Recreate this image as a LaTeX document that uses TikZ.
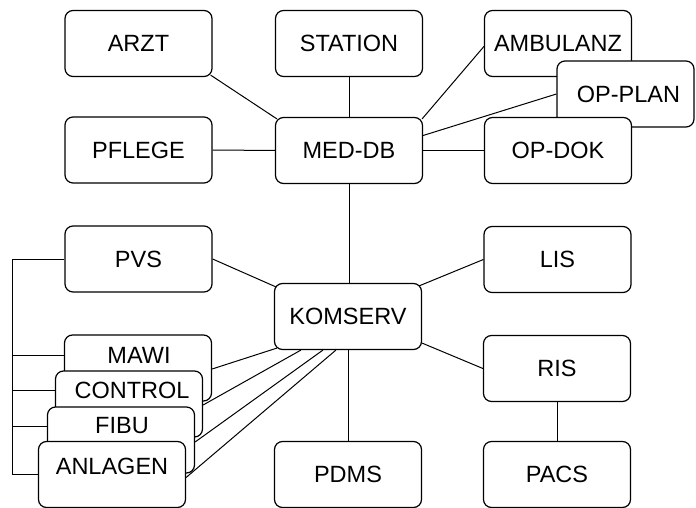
\documentclass[tikz,border=0pt]{standalone}
\usepackage{fontspec}
\setmainfont{Liberation Sans}
\usetikzlibrary{calc,backgrounds}
\begin{document}
\begin{tikzpicture}[x=1pt,y=-1pt,
  sysbox/.style={draw, line width=1.2pt, rounded corners=8pt, fill=white,
    minimum width=147pt, minimum height=66pt, inner sep=0pt,
    font=\fontsize{23.5}{28}\selectfont},
  boxlabel/.style={inner sep=0pt, font=\fontsize{23.5}{28}\selectfont},
  link/.style={line width=1pt}]
\useasboundingbox (0,0) rectangle (696,508);

% upper group around the medical database
\node[sysbox] (arzt)     at (138.5,43.5) {ARZT};
\node[sysbox] (station)  at (349,43.5)   {STATION};
\node[sysbox] (ambulanz) at (558,43.5)   {AMBULANZ};
\node[sysbox, minimum width=137pt] (opplan) at (625.5,94) {\hspace*{6pt}OP-PLAN};
\node[sysbox] (pflege)   at (138.5,150)  {PFLEGE};
\node[sysbox] (meddb)    at (349,150.5)  {MED-DB};
\node[sysbox] (opdok)    at (558,150.5)  {OP-DOK};

% communication server and attached systems
\node[sysbox] (pvs)      at (138.5,259)  {PVS};
\node[sysbox] (komserv)  at (348,316.5)  {KOMSERV};
\node[sysbox] (lis)      at (557.5,259.5) {LIS};
\node[sysbox] (ris)      at (557,368.5)  {RIS};
\node[sysbox] (pdms)     at (348,474.5)  {PDMS};
\node[sysbox] (pacs)     at (557,474.5)  {PACS};

% stacked administrative systems
\node[sysbox] (mawi)    at (138,368) {};
\node[boxlabel] (mawi-t) at (139,355) {MAWI};
\node[sysbox] (control) at (129,404) {};
\node[boxlabel] (control-t) at (132,390) {CONTROL};
\node[sysbox] (fibu)    at (121,440) {};
\node[boxlabel] (fibu-t) at (122,426) {FIBU};
\node[sysbox] (anlagen) at (112,474.5) {};
\node[boxlabel] (anlagen-t) at (112,466) {ANLAGEN};

\coordinate (bustop) at (12,259);
\coordinate (busbot) at (12,474.5);

\begin{pgfonlayer}{background}
  % links of MED-DB
  \draw[link] ($(arzt.south east)+(-2,-2)$) -- ($(meddb.north west)+(2,2)$);
  \draw[link] (station.south) -- (meddb.north);
  \draw[link] (pflege.east) -- (meddb.west);
  \draw[link] ($(meddb.north east)+(-1,2)$) -- ($(ambulanz.west)+(0,3)$);
  \draw[link] ($(meddb.east)+(0,-15)$) -- (opplan.west);
  \draw[link] (meddb.east) -- (opdok.west);
  \draw[link] (meddb.south) -- (meddb.south |- komserv.north);

  % links of KOMSERV
  \draw[link] (pvs.east) -- ($(komserv.north west)+(2,4)$);
  \draw[link] ($(komserv.north east)+(-3,3)$) -- (lis.west);
  \draw[link] ($(komserv.south east)+(0,-7)$) -- (ris.west);
  \draw[link] (komserv.south) -- (komserv.south |- pdms.north);
  \draw[link] (ris.south) -- (pacs.north);
  \draw[link] ($(mawi.east)+(0,1)$)    -- ($(komserv.south west)+(3,-2)$);
  \draw[link] ($(control.east)+(0,1)$) -- ($(komserv.south west)+(27,0)$);
  \draw[link] ($(fibu.east)+(0,2)$)    -- ($(komserv.south west)+(49,0)$);
  \draw[link] ($(anlagen.east)+(0,3)$) -- ($(komserv.south west)+(62,0)$);

  % bus joining the administrative systems
  \draw[link] (pvs.west) -- (bustop) -- (busbot) -- (anlagen.west);
  \draw[link] (mawi-t -| mawi.west) -- (mawi-t -| bustop);
  \draw[link] (control-t -| control.west) -- (control-t -| bustop);
  \draw[link] (fibu-t -| fibu.west) -- (fibu-t -| bustop);
\end{pgfonlayer}
\end{tikzpicture}
\end{document}
